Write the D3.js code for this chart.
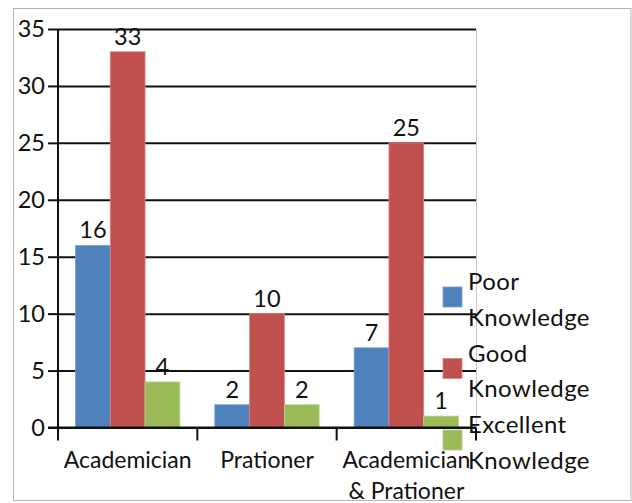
<!DOCTYPE html>
<html>
<head>
<meta charset="utf-8">
<script src="https://cdn.jsdelivr.net/npm/d3@7"></script>
<style>
  html, body { margin: 0; padding: 0; background: #fff; }
  svg { display: block; }
  text { font-family: Lato, "Open Sans", sans-serif; fill: #111; }
</style>
</head>
<body>
<svg id="chart" width="632" height="503"></svg>
<script>
// Knowledge level counts per respondent group
const categories = ["Academician", "Prationer", "Academician & Pratoner"];
const categoryLines = [["Academician"], ["Prationer"], ["Academician", "& Prationer"]];
const seriesNames = ["Poor Knowledge", "Good Knowledge", "Excellent Knowledge"];
const legendLines = [["Poor", "Knowledge"], ["Good", "Knowledge"], ["Excellent", "Knowledge"]];
const poor = [16, 2, 7];
const good = [33, 10, 25];
const excellent = [4, 2, 1];
const yTicks = [0, 5, 10, 15, 20, 25, 30, 35];
const colors = ["#4F81BD", "#C0504D", "#9BBB59"];
const edgeColors = ["#7a9fd0", "#d98785", "#b7d08a"];

const seriesValues = [poor, good, excellent];

const svg = d3.select("#chart");

// outer chart frame
svg.append("rect")
  .attr("x", 13.5).attr("y", 8.5)
  .attr("width", 617.5).attr("height", 492)
  .attr("fill", "none").attr("stroke", "#b4b4b4").attr("stroke-width", 1);

const plot = { left: 58, right: 476, top: 29, bottom: 427.5 };

const y = d3.scaleLinear().domain([0, 35]).range([plot.bottom, plot.top]);
const x0 = d3.scaleBand().domain(categories).range([plot.left, plot.right]).padding(0);
const groupPad = 17.5;
const x1 = d3.scaleBand().domain(seriesNames)
  .range([groupPad, x0.bandwidth() - groupPad]).padding(0);

// right edge of plot area
svg.append("line")
  .attr("x1", plot.right + 0.5).attr("x2", plot.right + 0.5)
  .attr("y1", plot.top).attr("y2", plot.bottom)
  .attr("stroke", "#c8c8c8").attr("stroke-width", 1);

// horizontal gridlines with outward ticks and labels
const yAxis = d3.axisLeft(y).tickValues(yTicks)
  .tickSize(-(plot.right - plot.left)).tickPadding(14).tickSizeOuter(0);
const gy = svg.append("g").attr("transform", `translate(${plot.left},0)`).call(yAxis);
gy.select(".domain").remove();
gy.selectAll(".tick line").attr("stroke", "#111").attr("stroke-width", 2);
gy.selectAll(".tick").append("line")
  .attr("x1", -10).attr("x2", 0)
  .attr("stroke", "#111").attr("stroke-width", 2);
gy.selectAll(".tick text")
  .attr("x", -13)
  .style("font-size", "23.5px").style("font-family", "Lato, sans-serif").attr("fill", "#111");

// bars
const data = [];
categories.forEach((c, ci) => {
  seriesNames.forEach((s, si) => {
    data.push({ cat: c, series: s, si, value: seriesValues[si][ci] });
  });
});

const bars = svg.append("g");
bars.selectAll("rect").data(data).join("rect")
  .attr("x", d => x0(d.cat) + x1(d.series))
  .attr("y", d => y(d.value))
  .attr("width", x1.bandwidth())
  .attr("height", d => y(0) - y(d.value))
  .attr("fill", d => colors[d.si])
  .attr("stroke", d => edgeColors[d.si])
  .attr("stroke-width", 0.8);

// y axis line
svg.append("line")
  .attr("x1", plot.left).attr("x2", plot.left)
  .attr("y1", plot.top).attr("y2", plot.bottom + 1)
  .attr("stroke", "#111").attr("stroke-width", 2);

// x axis with category boundary ticks
const xAxisG = svg.append("g");
xAxisG.append("line")
  .attr("x1", plot.left - 10).attr("x2", plot.right)
  .attr("y1", plot.bottom).attr("y2", plot.bottom)
  .attr("stroke", "#111").attr("stroke-width", 2);
const boundaries = categories.map(c => x0(c)).concat([x0(categories[categories.length - 1]) + x0.bandwidth()]);
xAxisG.selectAll("line.tk").data(boundaries).join("line")
  .attr("class", "tk")
  .attr("x1", d => d).attr("x2", d => d)
  .attr("y1", plot.bottom).attr("y2", plot.bottom + 13)
  .attr("stroke", "#111").attr("stroke-width", 2);

// category labels
const catG = xAxisG.selectAll("text.cat").data(categories).join("text")
  .attr("class", "cat")
  .attr("text-anchor", "middle")
  .attr("x", d => x0(d) + x0.bandwidth() / 2)
  .attr("y", 468)
  .style("font-size", "23px");
catG.each(function (d, i) {
  const t = d3.select(this);
  categoryLines[i].forEach((ln, li) => {
    t.append("tspan")
      .attr("x", x0(d) + x0.bandwidth() / 2)
      .attr("dy", li === 0 ? 0 : 31)
      .text(ln);
  });
});

// value labels
svg.append("g").selectAll("text").data(data).join("text")
  .attr("text-anchor", "middle")
  .attr("x", d => x0(d.cat) + x1(d.series) + x1.bandwidth() / 2)
  .attr("y", d => y(d.value) - 7)
  .style("font-size", "23.5px")
  .text(d => d.value);

// legend
const legend = svg.append("g");
const legendTop = 290;
const legendStep = 71.5;
seriesNames.forEach((s, i) => {
  const g = legend.append("g").attr("transform", `translate(0,${legendTop + i * legendStep})`);
  g.append("rect")
    .attr("x", 443).attr("y", -3)
    .attr("width", 19).attr("height", 20)
    .attr("fill", colors[i]).attr("stroke", edgeColors[i]).attr("stroke-width", 0.8);
  legendLines[i].forEach((ln, li) => {
    g.append("text")
      .attr("x", 468).attr("y", li * 35.7)
      .style("font-size", "24px")
      .attr("letter-spacing", "0.4")
      .text(ln);
  });
});
</script>
</body>
</html>
